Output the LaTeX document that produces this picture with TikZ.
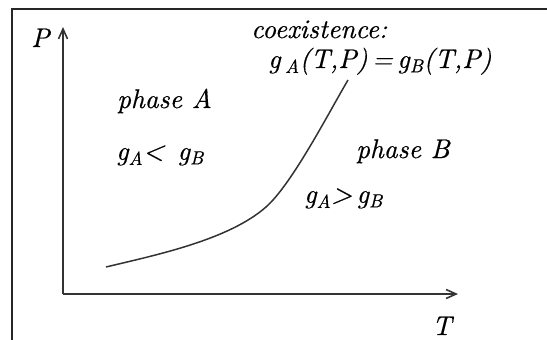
\documentclass[tikz,border=0pt]{standalone}
\usepackage{fontspec}
\newfontfamily\labelfont{lmroman10-italic}[Extension=.otf, FakeBold=0.5]
\usetikzlibrary{arrows.meta}
\newcommand{\sbs}[1]{\textsubscript{#1}}

\begin{document}
\begin{tikzpicture}[
    x=1pt, y=-1pt,
    >={Straight Barb[length=10pt,width=9pt]},
    every node/.style={font=\fontsize{27}{32}\labelfont, inner sep=0pt, anchor=base west},
    axis/.style={->, line width=1.6pt, black!80},
]
\useasboundingbox (0,0) rectangle (547,340);
% frame (only left and top edges are visible)
\draw[line width=2pt, black!85] (12,341) -- (12,9) -- (548,9);
% axes
\coordinate (orig) at (63,294);
\coordinate (ptip) at (63,27);
\coordinate (ttip) at (458,294);
\draw[axis] (orig) -- (ptip);
\draw[axis] (orig) -- (ttip);
\node (plabel) at (31,47) {P};
\node (tlabel) at (432,335) {T};
% coexistence line
\coordinate (cstart) at (106,267);
\coordinate (cknee) at (266,207);
\coordinate (cend) at (348,80);
\draw[line width=1.5pt, black!80] (cstart) .. controls (156,255) and (228.5,240) .. (cknee)
    .. controls (292,184) and (328,114) .. (cend);
% labels
\node (coex) at (251,38) {coexistence:};
\node (eqn) at (268,68) {g\,\sbs{A}(T,P)\,=\,g\sbs{B}(T,P)};
\node (phaseA) at (117,108) {phase A};
\node (ineqA) at (116,160) {g\sbs{A}<\enspace g\sbs{B}};
\node (phaseB) at (356,158) {phase B};
\node (ineqB) at (304,203) {g\sbs{A}>\,g\sbs{B}};
\end{tikzpicture}
\end{document}
